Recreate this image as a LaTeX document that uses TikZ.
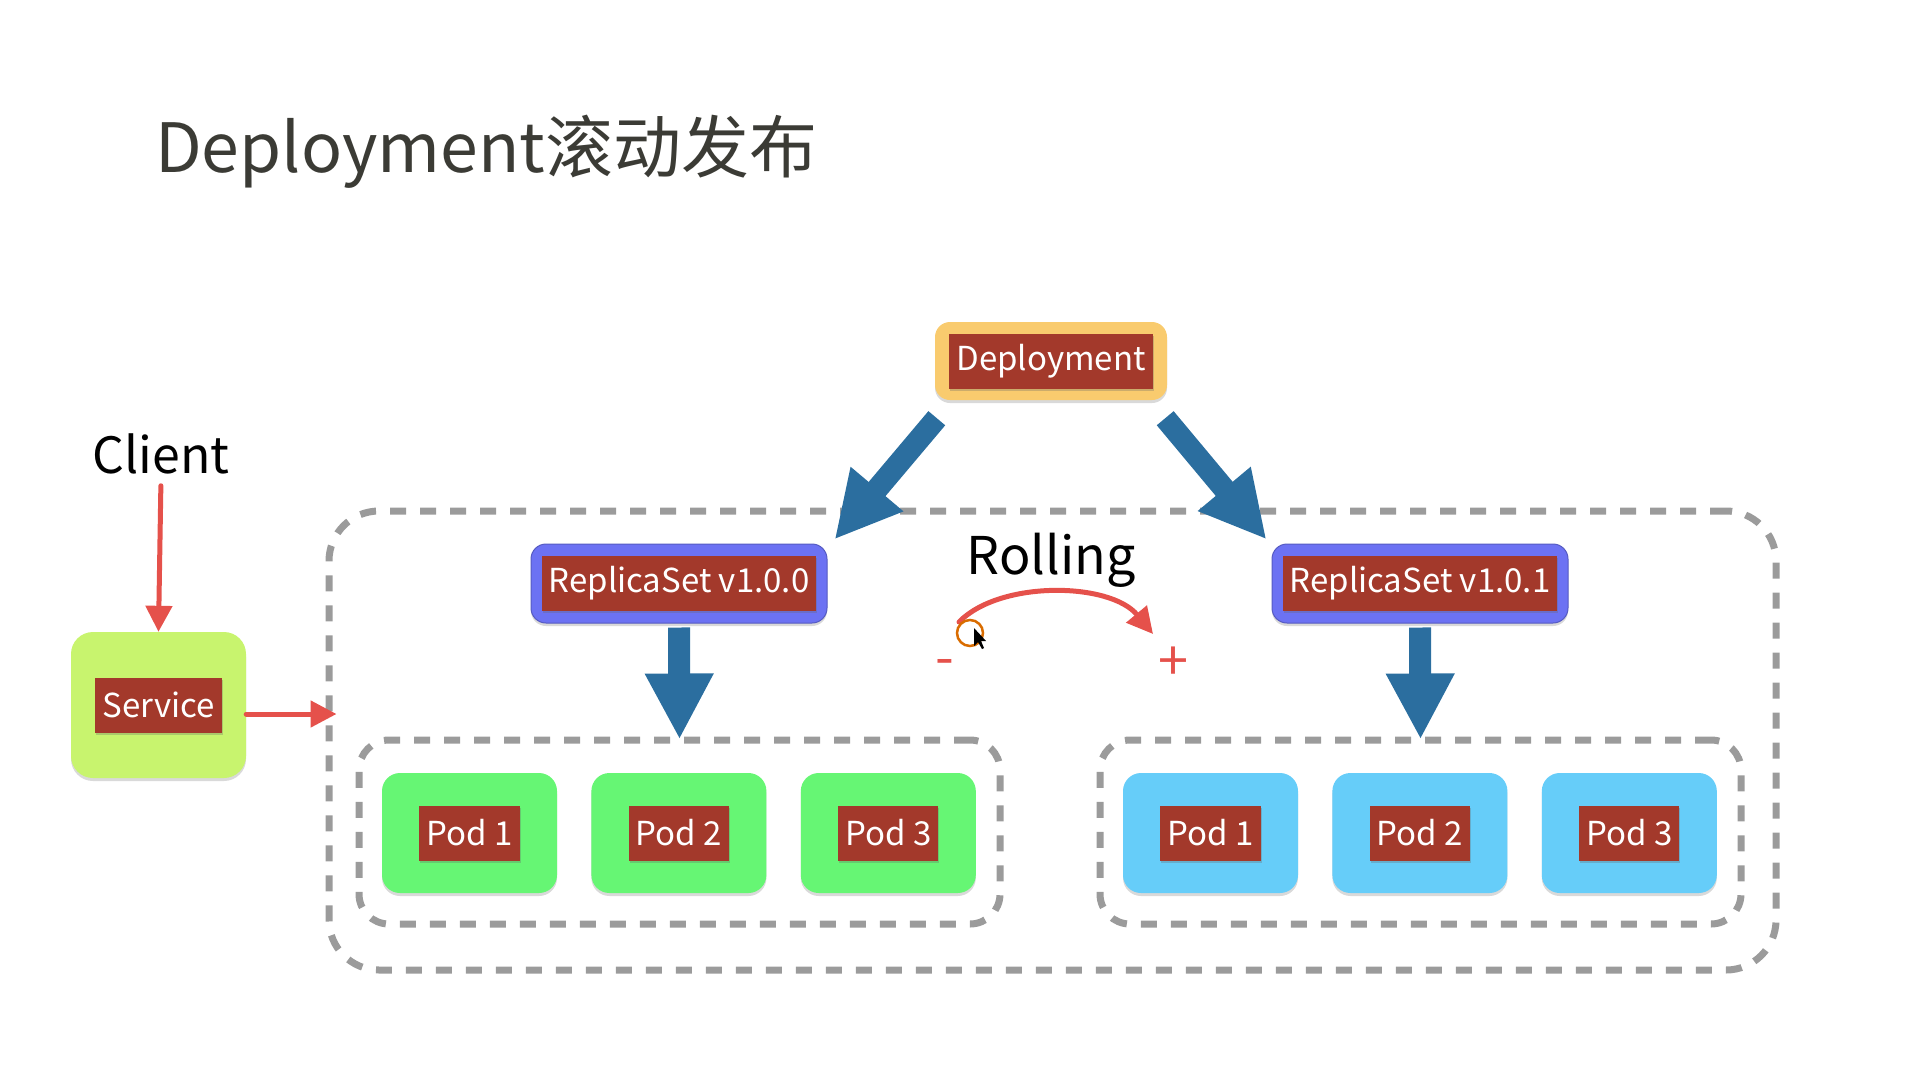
\documentclass[tikz,border=0pt]{standalone}
\usepackage{fontspec}
\setmainfont{Noto Sans CJK SC}
\usepackage{xcolor}
\usetikzlibrary{arrows.meta,positioning,shadows}

\definecolor{lblred}{HTML}{A3392B}
\definecolor{deployyellow}{HTML}{F9CB6E}
\definecolor{rspurple}{HTML}{6C72F3}
\definecolor{svcgreen}{HTML}{C8F46E}
\definecolor{podgreen}{HTML}{66F674}
\definecolor{podblue}{HTML}{66CDF9}
\definecolor{arrblue}{HTML}{2B6E9F}
\definecolor{penred}{HTML}{E5514B}
\definecolor{dashgray}{HTML}{9B9B9B}
\definecolor{titlegray}{HTML}{3B3B35}

\begin{document}
\begin{tikzpicture}[
  x=1pt, y=-1pt,
  node distance=34pt,
  every node/.style={font=\fontsize{33}{40}\selectfont},
  softshadow/.style={drop shadow={shadow xshift=0pt, shadow yshift=-3pt, opacity=0.25, fill=black!60}},
  lbl/.style={fill=lblred, text=white, minimum height=55pt, inner xsep=7pt, inner ysep=0pt,
    drop shadow={shadow xshift=1pt, shadow yshift=-2pt, opacity=0.3, fill=black!60}},
  deployBox/.style={fill=deployyellow, rounded corners=15pt, minimum width=232pt, minimum height=78pt, softshadow},
  rsBox/.style={fill=rspurple, draw=rspurple!80!black, line width=1pt, rounded corners=15pt, minimum width=296pt, minimum height=79pt, softshadow},
  svcBox/.style={fill=svcgreen, rounded corners=22pt, minimum width=175pt, minimum height=146pt, softshadow},
  podG/.style={fill=podgreen, rounded corners=18pt, minimum width=175pt, minimum height=120pt, softshadow},
  podB/.style={podG, fill=podblue},
  dashedBox/.style={draw=dashgray, line width=7pt, dash pattern=on 16pt off 14pt, rounded corners=#1},
  bluearr/.style={draw=arrblue, line width=22pt, -{Triangle[length=66pt, width=64pt]}},
  redpen/.style={draw=penred, line width=5pt, line cap=round, -{Triangle[length=26pt, width=26pt]}},
  sign/.style={text=penred, font=\fontsize{54}{60}\selectfont}
]
\useasboundingbox (0,0) rectangle (1920,1080);

% title
\node[anchor=base west, inner sep=0pt, text=titlegray, font=\fontsize{68}{78}\selectfont] (title) at (155,172) {Deployment滚动发布};

% dashed groups
\node[dashedBox=50pt, minimum width=1447pt, minimum height=459pt] (outer) at (1052.5,740.5) {};
\node[dashedBox=30pt, minimum width=641pt, minimum height=184pt] (pods1) at (679.5,832) {};
\node[dashedBox=30pt, minimum width=641pt, minimum height=184pt] (pods2) at (1420.5,832) {};

% deployment and replica sets
\node[deployBox] (deploy) at (1051,361) {};
\node[lbl] (deployLbl) at (deploy) {Deployment};
\node[rsBox] (rs1) at (679,583.5) {};
\node[lbl] (rs1Lbl) at (rs1) {ReplicaSet v1.0.0};
\node[rsBox] (rs2) at (1420,583.5) {};
\node[lbl] (rs2Lbl) at (rs2) {ReplicaSet v1.0.1};

% pods
\node[podG] (g1) at (469.5,833) {};
\node[podG, right=of g1] (g2) {};
\node[podG, right=of g2] (g3) {};
\node[podB] (b1) at (1210.5,833) {};
\node[podB, right=of b1] (b2) {};
\node[podB, right=of b2] (b3) {};
\foreach \p/\t in {g1/Pod 1, g2/Pod 2, g3/Pod 3, b1/Pod 1, b2/Pod 2, b3/Pod 3}
  \node[lbl] (\p Lbl) at (\p) {\t};

% client and service
\node[font=\fontsize{50}{58}\selectfont] (client) at (161,454) {Client};
\node[svcBox] (service) at (158.5,705) {};
\node[lbl] (serviceLbl) at (service) {Service};

% rolling
\node[font=\fontsize{52}{60}\selectfont] (rolling) at (1051,560) {Rolling};
\coordinate (rollStart) at (959,622);
\coordinate (rollEnd) at (1153,634);
\node[sign] (minus) at (945,668) {-};
\node[sign] (plus) at (1173,664) {+};

% arrows
\draw[bluearr] ([shift={(2,18)}]deploy.south west) -- ([shift={(7,-4)}]rs1.north east);
\draw[bluearr] ([shift={(-2,18)}]deploy.south east) -- ([shift={(-5,-4)}]rs2.north west);
\draw[bluearr, shorten <=4pt, shorten >=-3pt] (rs1.south) -- (pods1.north);
\draw[bluearr, shorten <=4pt, shorten >=-3pt] (rs2.south) -- (pods2.north);

\draw[redpen, shorten <=8pt] (client.south) -- (service.north);
\draw[redpen, shorten >=-11pt] ([yshift=-9pt]service.east) -- ([yshift=-9pt]service.east -| outer.west);
\draw[redpen] (rollStart) .. controls (1000,580) and (1110,582) .. (rollEnd);

% pointer highlight
\draw[draw=orange!85!black, line width=2.5pt] (970,633) circle[radius=13pt];
\fill[black] (974,628) -- (974,646) -- (978,642) -- (982,649) -- (984,648) -- (981,641) -- (986,641) -- cycle;
\end{tikzpicture}
\end{document}
